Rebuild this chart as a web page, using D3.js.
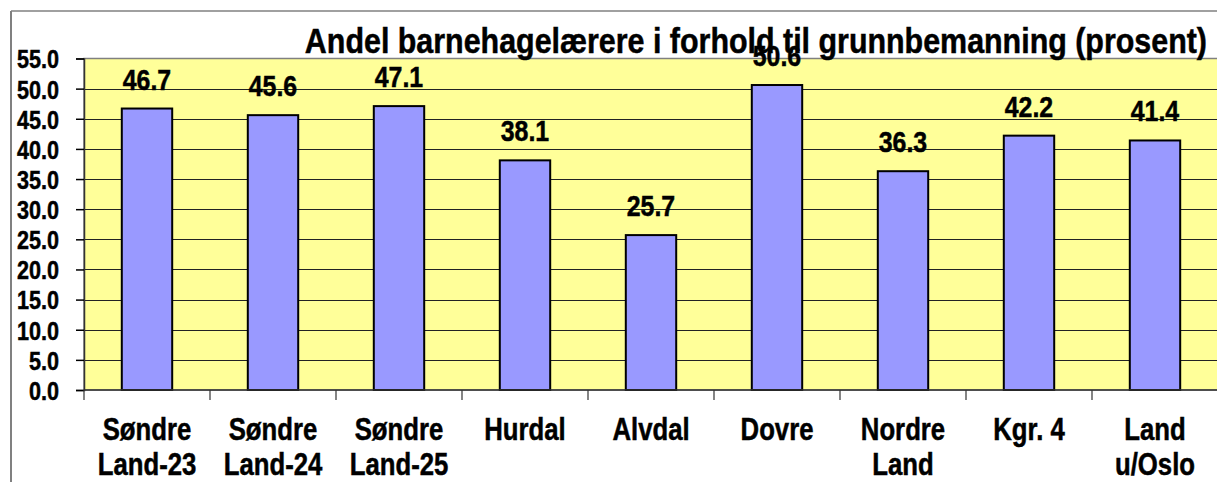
<!DOCTYPE html>
<html>
<head>
<meta charset="utf-8">
<script src="https://cdn.jsdelivr.net/npm/d3@7"></script>
<style>
  body { margin: 0; background: #fff; }
  text { font-family: "Liberation Sans", Arial, sans-serif; font-weight: bold; fill: #000; stroke: #000; stroke-width: 0.5px; }
</style>
</head>
<body>
<div class="chart"></div>
<script>
// data
const categories = [["Søndre", "Land-23"], ["Søndre", "Land-24"], ["Søndre", "Land-25"], ["Hurdal"], ["Alvdal"], ["Dovre"], ["Nordre", "Land"], ["Kgr. 4"], ["Land", "u/Oslo"]];
const values = [46.7, 45.6, 47.1, 38.1, 25.7, 50.6, 36.3, 42.2, 41.4];
const yTicks = [0, 5, 10, 15, 20, 25, 30, 35, 40, 45, 50, 55];
const title = "Andel barnehagelærere i forhold til grunnbemanning (prosent)";

const W = 1217, H = 482;
const plot = {left: 84, top: 58.5, right: 1218, bottom: 390};
const sx = 0.83; // narrow font look: squeeze text horizontally

const svg = d3.select('.chart')
    .append('svg')
    .attr('width', W)
    .attr('height', H);

// outer chart border (only top + left visible)
svg.append('line').attr('x1', 11).attr('x2', W + 5).attr('y1', 11).attr('y2', 11)
    .attr('stroke', '#808080').attr('stroke-width', 1.5);
svg.append('line').attr('x1', 11).attr('x2', 11).attr('y1', 11).attr('y2', H + 5)
    .attr('stroke', '#808080').attr('stroke-width', 2);

const keys = categories.map(d => d.join(' '));

const xScale = d3.scaleBand()
    .domain(keys)
    .range([plot.left, plot.right])
    .paddingInner(0.6)
    .paddingOuter(0.3);

const yScale = d3.scaleLinear()
    .domain([0, 55])
    .range([plot.bottom, plot.top]);

// plot background
svg.append('rect')
    .attr('x', plot.left).attr('y', plot.top)
    .attr('width', plot.right - plot.left).attr('height', plot.bottom - plot.top)
    .attr('fill', '#FFFF99')
    .attr('stroke', '#808080').attr('stroke-width', 1.5);

// gridlines
svg.append('g')
    .selectAll('line')
    .data(yTicks.filter(t => t > 0 && t < 55))
    .enter()
    .append('line')
    .attr('x1', plot.left).attr('x2', plot.right)
    .attr('y1', d => Math.round(yScale(d)) + 0.5)
    .attr('y2', d => Math.round(yScale(d)) + 0.5)
    .attr('stroke', '#222').attr('stroke-width', 1);

// bars
svg.append('g')
    .selectAll('rect')
    .data(values)
    .enter()
    .append('rect')
    .attr('x', (d, i) => xScale(keys[i]))
    .attr('y', d => yScale(d))
    .attr('width', xScale.bandwidth())
    .attr('height', d => yScale(0) - yScale(d))
    .attr('fill', '#9999FF')
    .attr('stroke', '#000')
    .attr('stroke-width', 2);

// y axis
const yAxis = d3.axisLeft(yScale)
    .tickValues(yTicks)
    .tickFormat(d3.format('.1f'))
    .tickSize(8)
    .tickPadding(0);

const yAxisDisplay = svg.append('g')
    .attr('transform', `translate(${plot.left},0)`)
    .call(yAxis);
yAxisDisplay.select('.domain').attr('stroke', '#333').attr('stroke-width', 1.5);
yAxisDisplay.selectAll('.tick line').attr('stroke', '#000').attr('stroke-width', 1.5);
yAxisDisplay.selectAll('.tick text')
    .attr('font-size', 26)
    .attr('font-family', null)
    .attr('x', -25 / sx)
    .attr('dy', '0.36em')
    .attr('transform', `scale(${sx},1)`);

// x axis (ticks between categories)
const boundaries = d3.range(keys.length + 1).map(i => plot.left + i * xScale.step());
svg.append('line')
    .attr('x1', plot.left).attr('x2', plot.right)
    .attr('y1', plot.bottom).attr('y2', plot.bottom)
    .attr('stroke', '#333').attr('stroke-width', 1.5);
svg.append('g')
    .selectAll('line')
    .data(boundaries)
    .enter()
    .append('line')
    .attr('x1', d => d).attr('x2', d => d)
    .attr('y1', plot.bottom).attr('y2', plot.bottom + 10)
    .attr('stroke', '#333').attr('stroke-width', 1.2);

const xLabels = svg.append('g')
    .selectAll('text')
    .data(categories)
    .enter()
    .append('text')
    .attr('transform', (d, i) => `translate(${xScale(keys[i]) + xScale.bandwidth() / 2},440) scale(${sx},1)`)
    .attr('text-anchor', 'middle')
    .attr('font-size', 31);
xLabels.selectAll('tspan')
    .data(d => d)
    .enter()
    .append('tspan')
    .attr('x', 0)
    .attr('dy', (d, i) => i === 0 ? 0 : 35)
    .text(d => d);

// value labels
svg.append('g')
    .selectAll('text')
    .data(values)
    .enter()
    .append('text')
    .attr('transform', (d, i) => `translate(${xScale(keys[i]) + xScale.bandwidth() / 2},${yScale(d) - 19}) scale(${sx},1)`)
    .attr('text-anchor', 'middle')
    .attr('font-size', 30)
    .text(d => d.toFixed(1));

// title
svg.append('text')
    .attr('transform', `translate(1207,53) scale(${sx + 0.015},1)`)
    .attr('text-anchor', 'end')
    .attr('font-size', 36)
    .text(title);
</script>
</body>
</html>
